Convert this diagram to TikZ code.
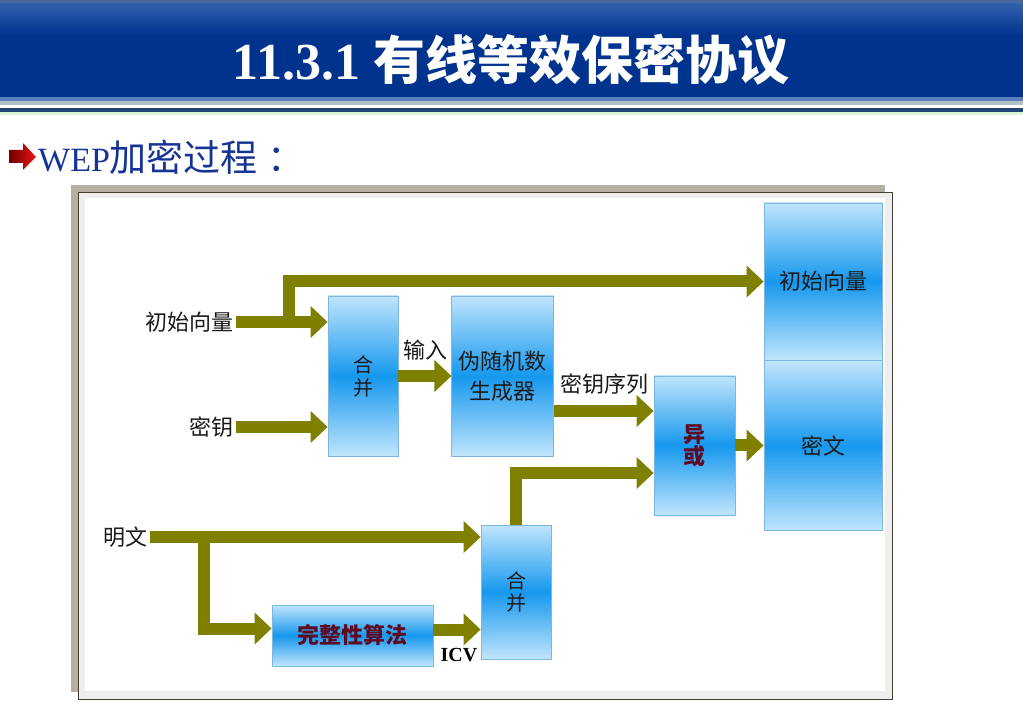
\documentclass[tikz,border=0pt]{standalone}
\usepackage{fontspec}
\setmainfont{Liberation Serif}
\newfontfamily\cjk{Noto Sans CJK SC}
\usepackage{xcolor}
\usetikzlibrary{arrows.meta,positioning}
\definecolor{olivearrow}{RGB}{128,128,0}
\definecolor{boxlight}{RGB}{192,229,252}
\definecolor{boxmid}{RGB}{22,152,238}
\definecolor{boxedge}{RGB}{125,182,222}
\definecolor{banner}{RGB}{0,51,142}
\definecolor{bannertop}{RGB}{48,94,172}
\definecolor{headblue}{RGB}{22,52,150}
\definecolor{maroon}{RGB}{95,10,35}
\definecolor{labeltext}{RGB}{26,26,26}
\definecolor{shadowgray}{RGB}{182,174,160}
\definecolor{framedark}{RGB}{70,62,50}
\definecolor{framegray}{RGB}{238,238,238}
\definecolor{bulletdark}{RGB}{110,0,0}
\definecolor{bulletred}{RGB}{235,20,20}

\begin{document}
\begin{tikzpicture}[x=1pt,y=-1pt,
	flow/.style={color=olivearrow,line width=12pt,line join=miter,-{Triangle[length=17pt,width=31pt]}},
	blockbox/.style={draw=boxedge,line width=0.8pt,top color=boxlight,bottom color=boxlight,middle color=boxmid,
		inner sep=0pt,align=center,font=\fontsize{22}{30}\selectfont\cjk,text=labeltext},
	tag/.style={inner sep=2pt,font=\fontsize{22}{26}\selectfont\cjk,text=labeltext}]
	\useasboundingbox[fill=white] (0,0) rectangle (1023,708);

	\fill[bannertop!70!gray] (0,0) rectangle (1023,4);
	\shade[top color=bannertop,bottom color=banner] (0,4) rectangle (1023,36);
	\fill[banner] (0,36) rectangle (1023,97);
	\fill[bannertop!80!white] (0,97) rectangle (1023,101);
	\fill[gray!80!cyan!60] (0,101) rectangle (1023,105);
	\fill[white] (0,105) rectangle (1023,108);
	\fill[bannertop!70!black] (0,108) rectangle (1023,112);
	\fill[gray!40!green!20] (0,112) rectangle (1023,115);
	\node[name=title,text=white,font=\fontsize{52}{58}\selectfont\bfseries] at (511,60) {11.3.1 {\cjk 有线等效保密协议}};

	\shade[left color=bulletdark,right color=bulletred] (9,150) -- (23,150) -- (23,143) -- (36,157) -- (23,170) -- (23,163) -- (9,163) -- cycle;
	\node[name=heading,anchor=west,inner sep=0pt,text=headblue,font=\fontsize{34}{40}\selectfont] at (38,157) {WEP{\cjk\fontsize{37}{40}\selectfont 加密过程\kern10pt：}};

	\fill[shadowgray] (71,185) rectangle (885,692);
	\draw[framedark,fill=framegray] (78,192) rectangle (892,699);
	\fill[white] (85,198) rectangle (885,691);

	\node[blockbox,name=hb1,minimum width=70pt,minimum height=160pt,font=\fontsize{20}{23}\selectfont\cjk] at (363,376) {合\\并};
	\node[blockbox,name=prng,minimum width=102pt,minimum height=160pt,right=53pt of hb1] {伪随机数\\生成器};
	\node[blockbox,name=xor,minimum width=81pt,minimum height=139pt,font=\fontsize{22}{22}\selectfont\cjk\bfseries,text=maroon] at (694.5,445.5) {异\\或};
	\node[blockbox,name=ivo,minimum width=118pt,minimum height=157pt] at (823,281.5) {初始向量};
	\node[blockbox,name=ct,minimum width=118pt,minimum height=170pt,below=0pt of ivo] {密文};
	\node[blockbox,name=hb2,minimum width=70pt,minimum height=134pt,font=\fontsize{20}{22}\selectfont\cjk] at (516,592) {合\\并};
	\node[blockbox,name=icv,minimum width=161pt,minimum height=61pt,font=\fontsize{22}{26}\selectfont\cjk\bfseries,text=maroon] at (352.5,635.5) {完整性算法};

	\node[tag,name=ivl,anchor=east] at (236,322) {初始向量};
	\node[tag,name=keyl,anchor=east] at (236,427) {密钥};
	\node[tag,name=ptl,anchor=east] at (150,537) {明文};
	\node[tag,name=inl] at (425,350) {输入};
	\node[tag,name=ksl] at (604,384) {密钥序列};
	\node[name=icvl,inner sep=0pt,font=\fontsize{20}{24}\selectfont\bfseries] at (459,655) {ICV};

	\coordinate (ivfork) at (289,322);
	\coordinate (ptfork) at (204,537);

	\path (ivl.east) edge[flow] (ivl.east -| hb1.west)
		(keyl.east) edge[flow] (keyl.east -| hb1.west)
		(hb1.east) edge[flow] (prng.west)
		([yshift=-35pt]prng.east) edge[flow] ([yshift=-35pt]prng.east -| xor.west)
		(xor.east) edge[flow] (xor.east -| ct.west)
		(ptl.east) edge[flow] (ptl.east -| hb2.west)
		([yshift=6pt]icv.east) edge[flow] ([yshift=6pt]icv.east -| hb2.west);
	\draw[flow] (ivfork) |- (ivo.west);
	\draw[flow] (hb2.north) |- ([yshift=-27.5pt]xor.west);
	\draw[flow] (ptfork) |- ([yshift=7pt]icv.west);
\end{tikzpicture}
\end{document}
